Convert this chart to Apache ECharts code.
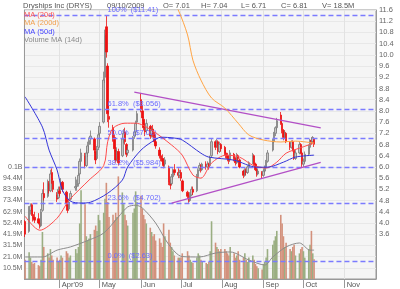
<!DOCTYPE html>
<html><head><meta charset="utf-8">
<script src="https://cdn.jsdelivr.net/npm/echarts@6/dist/echarts.min.js"></script>
<style>html,body{margin:0;padding:0;background:#fff}#c{width:400px;height:289px}</style>
</head><body><div id="c"></div>
<script>
const tradeDates = ['03-06','03-09','03-10','03-11','03-12','03-13','03-16','03-17','03-18','03-19','03-20','03-23','03-24','03-25','03-26','03-27','03-30','03-31',
'04-01','04-02','04-03','04-06','04-07','04-08','04-09','04-13','04-14','04-15','04-16','04-17','04-20','04-21','04-22','04-23','04-24','04-27','04-28','04-29','04-30',
'05-01','05-04','05-05','05-06','05-07','05-08','05-11','05-12','05-13','05-14','05-15','05-18','05-19','05-20','05-21','05-22','05-26','05-27','05-28','05-29',
'06-01','06-02','06-03','06-04','06-05','06-08','06-09','06-10','06-11','06-12','06-15','06-16','06-17','06-18','06-19','06-22','06-23','06-24','06-25','06-26','06-29','06-30',
'07-01','07-02','07-06','07-07','07-08','07-09','07-10','07-13','07-14','07-15','07-16','07-17','07-20','07-21','07-22','07-23','07-24','07-27','07-28','07-29','07-30','07-31',
'08-03','08-04','08-05','08-06','08-07','08-10','08-11','08-12','08-13','08-14','08-17','08-18','08-19','08-20','08-21','08-24','08-25','08-26','08-27','08-28','08-31',
'09-01','09-02','09-03','09-04','09-08','09-09','09-10','09-11','09-14','09-15','09-16','09-17','09-18','09-21','09-22','09-23','09-24','09-25','09-28','09-29','09-30',
'10-01','10-02','10-05','10-06','10-07','10-08','10-09'];
const opens = [4.05,3.70,4.45,4.65,4.30,4.20,4.15,4.00,3.90,4.45,5.05,4.95,5.40,5.15,5.80,5.50,5.00,4.90,
5.15,5.20,5.45,5.10,4.70,4.50,4.85,5.25,5.30,5.40,5.75,6.20,6.40,6.05,6.50,6.80,7.00,7.00,6.55,6.30,6.70,
7.20,7.60,9.20,11.00,9.60,7.80,7.40,7.05,6.60,6.30,6.55,6.40,7.00,7.25,6.80,6.50,6.60,7.10,7.25,7.60,
8.40,8.00,7.70,7.40,7.30,7.45,7.15,7.35,7.15,6.90,6.60,6.40,6.30,6.20,6.10,6.00,5.45,5.40,5.65,5.90,5.80,5.70,
5.80,5.50,5.10,4.95,4.80,5.00,5.20,5.15,5.65,5.95,6.05,5.90,6.10,6.00,6.10,6.05,6.40,6.90,6.75,6.90,6.55,6.80,
6.70,6.50,6.40,6.30,6.25,6.45,6.30,6.15,6.40,6.25,5.85,5.70,5.85,5.80,6.00,6.15,6.40,6.10,5.90,5.75,5.80,
5.70,5.85,6.00,6.20,6.60,6.90,7.20,7.40,7.85,7.55,7.30,7.05,7.20,6.85,6.70,6.90,6.60,6.30,6.50,6.80,6.50,
6.10,6.20,6.45,6.70,6.95,6.90,7.01];
const highs = [4.10,4.60,4.70,4.70,4.45,4.40,4.35,4.10,4.50,5.20,5.45,5.55,5.50,5.90,5.95,5.60,5.10,5.30,
5.30,5.60,5.50,5.15,4.80,4.85,5.15,5.65,5.55,5.80,6.30,6.65,6.50,6.60,6.90,7.05,7.30,7.05,6.65,6.75,7.30,
7.60,9.40,10.90,11.41,9.70,8.20,7.50,7.15,6.70,6.70,6.65,7.10,7.35,7.40,6.85,6.75,7.10,7.40,7.65,8.00,
8.64,8.20,7.80,7.55,7.70,7.50,7.40,7.50,7.25,7.00,6.70,6.55,6.45,6.30,6.35,6.05,5.55,5.75,5.95,6.10,5.95,5.90,
5.90,5.55,5.15,5.05,5.10,5.30,5.30,5.75,5.95,6.15,6.10,6.15,6.20,6.20,6.15,6.40,7.00,6.95,7.00,6.95,6.90,6.85,
6.75,6.60,6.50,6.40,6.60,6.50,6.35,6.50,6.45,6.30,5.90,5.95,5.95,6.05,6.20,6.50,6.45,6.15,5.95,5.95,5.85,
5.95,6.05,6.25,6.60,7.00,7.25,7.45,7.75,7.96,7.60,7.35,7.30,7.25,6.90,6.95,6.95,6.65,6.60,6.90,6.85,6.55,
6.30,6.55,6.80,7.00,7.05,7.10,7.04];
const lows = [3.50,3.65,4.30,4.25,4.05,4.00,3.95,3.80,3.85,4.40,4.80,4.90,5.05,5.10,5.40,5.10,4.75,4.85,
4.95,5.15,5.10,4.60,4.35,4.45,4.80,5.15,5.15,5.30,5.70,6.05,5.95,6.00,6.35,6.55,6.80,6.50,6.10,6.25,6.60,
7.10,7.55,9.00,9.90,7.60,7.40,6.90,6.55,6.15,6.20,6.05,6.35,6.85,6.80,6.35,6.40,6.55,7.00,7.10,7.50,
7.95,7.65,7.30,7.10,7.20,7.00,7.05,7.05,6.80,6.65,6.30,6.20,6.10,5.95,6.00,5.35,5.20,5.35,5.55,5.70,5.60,5.60,
5.50,5.10,4.85,4.72,4.75,4.95,5.00,5.10,5.60,5.85,5.80,5.85,5.90,5.95,5.90,6.00,6.35,6.60,6.70,6.45,6.50,6.55,
6.40,6.30,6.20,6.10,6.20,6.20,6.05,6.10,6.20,5.95,5.60,5.65,5.70,5.75,5.95,6.10,6.05,5.85,5.65,5.70,5.60,
5.65,5.80,5.95,6.15,6.55,6.85,7.10,7.30,7.50,7.20,6.95,7.00,6.85,6.60,6.65,6.55,6.25,6.25,6.45,6.45,6.00,
6.00,6.15,6.40,6.65,6.80,6.85,6.71];
const closes = [3.60,4.45,4.60,4.30,4.15,4.10,4.00,3.90,4.40,5.05,4.90,5.45,5.15,5.75,5.55,5.20,4.85,5.20,
5.05,5.45,5.20,4.70,4.45,4.75,5.05,5.30,5.40,5.70,6.20,6.50,6.05,6.50,6.75,6.95,7.10,6.60,6.25,6.65,7.15,
7.45,9.10,10.70,10.10,7.90,7.70,7.00,6.65,6.25,6.55,6.15,7.00,7.20,6.90,6.45,6.60,7.05,7.25,7.55,7.90,
8.05,7.75,7.40,7.25,7.55,7.10,7.30,7.15,6.90,6.75,6.40,6.30,6.20,6.05,6.25,5.45,5.35,5.65,5.85,5.80,5.70,5.80,
5.60,5.15,4.95,4.80,5.00,5.20,5.10,5.65,5.90,6.05,5.90,6.10,6.00,6.10,6.00,6.35,6.90,6.70,6.90,6.55,6.80,6.65,
6.50,6.40,6.30,6.20,6.50,6.30,6.15,6.40,6.30,6.00,5.70,5.90,5.80,6.00,6.15,6.40,6.10,5.90,5.75,5.85,5.70,
5.85,6.00,6.20,6.50,6.90,7.20,7.40,7.65,7.55,7.30,7.05,7.20,6.90,6.70,6.90,6.60,6.30,6.50,6.80,6.50,6.10,
6.20,6.45,6.70,6.95,6.90,7.05,6.81];
const volumes = [18,25,20,16,14,15,13,12,18,44,30,24,20,28,22,18,20,16,
18,22,20,26,24,20,22,28,24,30,52,83,70,40,36,38,42,46,50,45,60,
55,62,75,90,72,58,60,55,62,58,96,81,70,60,55,50,62,66,82,72,
78,66,60,56,52,48,44,40,42,36,38,34,30,52,40,46,34,30,26,22,20,20,
20,24,26,22,18,16,15,20,24,22,18,16,15,14,16,26,54,34,30,28,26,28,
28,26,24,22,30,24,20,22,26,18,20,24,18,16,20,22,18,14,12,10,9,
14,16,20,28,32,36,40,45,60,52,40,30,34,28,26,30,32,22,24,28,30,
26,20,28,32,45,24,18.5];

const ma20Pts = [['2009-03-06',4.24],['2009-03-17',3.74],['2009-03-30',4.17],['2009-04-08',4.81],['2009-04-23',5.53],['2009-05-04',6.05],['2009-05-07',6.9],['2009-05-11',7.38],['2009-05-20',7.56],['2009-05-28',7.56],['2009-06-09',7.31],['2009-06-24',6.78],['2009-07-02',6.42],['2009-07-10',5.71],['2009-07-16',5.6],['2009-07-24',6.14],['2009-08-04',6.42],['2009-08-14',6.35],['2009-08-24',6.06],['2009-09-03',5.96],['2009-09-11',6.17],['2009-09-18',6.49],['2009-09-28',6.67],['2009-10-09',6.85]];
const ma50Pts = [['2009-03-06',8.5],['2009-03-19',7.42],['2009-03-24',6.6],['2009-03-30',5.89],['2009-04-03',5.17],['2009-04-09',4.78],['2009-04-17',4.71],['2009-04-24',4.74],['2009-05-07',5.06],['2009-05-18',5.53],['2009-05-22',6.0],['2009-06-01',6.6],['2009-06-09',6.89],['2009-06-16',7.06],['2009-06-26',7.03],['2009-07-02',6.96],['2009-07-16',6.49],['2009-07-22',6.35],['2009-08-10',6.24],['2009-08-27',5.99],['2009-09-04',5.99],['2009-09-16',6.17],['2009-09-25',6.35],['2009-10-09',6.42]];
const ma200Pts = [['2009-06-22',12.2],['2009-06-29',11.6],['2009-07-06',10.71],['2009-07-10',9.81],['2009-07-16',9.1],['2009-07-24',8.46],['2009-08-03',8.1],['2009-08-13',7.56],['2009-08-21',7.14],['2009-09-01',6.96],['2009-09-14',6.89],['2009-09-25',6.92],['2009-10-09',6.85]];
const volMaPts = [['2009-03-06',20.6],['2009-03-19',20.6],['2009-03-30',27],['2009-04-09',30],['2009-04-23',36.5],['2009-05-04',43],['2009-05-15',58],['2009-05-22',67.4],['2009-05-28',69],['2009-06-02',66.5],['2009-06-12',52.4],['2009-06-22',32],['2009-07-02',21],['2009-07-15',20.6],['2009-07-27',24.3],['2009-08-07',25.3],['2009-08-21',17.8],['2009-09-02',13.1],['2009-09-08',20.6],['2009-09-18',30],['2009-09-28',33.7],['2009-10-06',27],['2009-10-09',27]];

const fibPct = ['100%','61.8%','50.0%','38.2%','23.6%','0.0%'];
const fibVal = [11.41, 8.056, 7.02, 5.984, 4.702, 2.63];
const trendUpper = [['2009-05-27',8.67],['2009-10-14',7.39]];
const trendLower = [['2009-06-24',4.71],['2009-10-14',6.16]];
const monthStarts = ['2009-04-01','2009-05-01','2009-06-01','2009-07-01','2009-08-01','2009-09-01','2009-10-01','2009-11-01'];
const monthLabels = ["Apr'09",'May','Jun','Jul','Aug','Sep','Oct','Nov'];
const legendNames = ['MA (20d)','MA (200d)','MA (50d)','Volume MA (14d)'];
const header = ['Dryships Inc (DRYS)','09/10/2009','O= 7.01','H= 7.04','L= 6.71','C= 6.81','V= 18.5M'];
const volStep = 10.486;

const cats = [];
for (let t = Date.UTC(2009,2,6); t <= Date.UTC(2009,10,24); t += 86400000) cats.push(new Date(t).toISOString().slice(0,10));
const idx = {}; cats.forEach((c,i)=>idx[c]=i);
const candle = cats.map(()=>['-','-','-','-']);
const vol = cats.map(()=>'-');
tradeDates.forEach((d,i)=>{
  const k = idx['2009-'+d];
  candle[k] = [opens[i], closes[i], lows[i], highs[i]];
  vol[k] = {value: volumes[i], itemStyle:{color: closes[i] >= opens[i] ? '#9aae82' : '#d3917c'}};
});
function sparse(pts){ const a = cats.map(()=>'-'); pts.forEach(p=>{a[idx[p[0]]]=p[1];}); return a; }
const isMonth = (i,v)=> monthStarts.indexOf(v) >= 0;

const fibLines = fibVal.map((v,i)=>({yAxis: v, label:{formatter: fibPct[i] + '  ($' + v + ')'}}));
const trendStyle = {type:'solid', color:'#b24fc6', width:1.3};
const trendLines = [trendUpper, trendLower].map(t=>[{coord:t[0], lineStyle:trendStyle, label:{show:false}},{coord:t[1]}]);

const font = 'Liberation Sans, Arial, sans-serif';
const legColors = ['#ff5555','#f2a04e','#4646ff','#8a8a8a'];
const headerX = [23,107,163,201,241,281,322];
const graphics = header.map((t,i)=>({type:'text', left:headerX[i], top:2, style:{text:t, fontSize:7.5, fontFamily:font, fill:'#555'}}))
  .concat(legendNames.map((t,i)=>({type:'text', left:24, top:11+i*8.3, z:50, style:{text:t, fontSize:7.5, fontFamily:font, fill:legColors[i]}})));

const chart = echarts.init(document.getElementById('c'));
chart.setOption({
  animation:false,
  backgroundColor:'#fff',
  textStyle:{fontFamily:font},
  grid:{left:22, right:24, top:10, bottom:10, show:true, backgroundColor:'#f5f5f5', borderColor:'#999', borderWidth:1},
  graphic: graphics,
  xAxis:{type:'category', data:cats, boundaryGap:true,
    axisLine:{lineStyle:{color:'#999'}},
    axisTick:{show:true, interval:isMonth, alignWithLabel:true, length:9, lineStyle:{color:'#999'}},
    axisLabel:{interval:isMonth, formatter:v=>monthLabels[monthStarts.indexOf(v)], align:'left', margin:2, padding:[0,0,0,2], fontSize:7.5, color:'#555'},
    splitLine:{show:true, interval:isMonth, lineStyle:{color:'#e2e2e2'}}},
  yAxis:[
    {type:'value', position:'right', min:2.0, max:11.6, interval:0.4,
     axisLine:{show:true, lineStyle:{color:'#999'}}, axisTick:{show:false},
     axisLabel:{formatter:v=> v>3.55 ? v.toFixed(1) : '', fontSize:7.5, color:'#666', margin:3},
     splitLine:{lineStyle:{color:'#e8e8e8'}}},
    {type:'value', position:'left', min:0, max:volStep*24, interval:volStep,
     axisLine:{show:true, lineStyle:{color:'#999'}}, axisTick:{show:false},
     axisLabel:{formatter:v=>{const k=Math.round(v/volStep); if(k>=1&&k<=9) return v.toFixed(1)+'M'; if(k===10) return '0.1B'; return '';}, fontSize:7, color:'#666', margin:2},
     splitLine:{show:false}}
  ],
  series:[
    {name:'Volume', type:'bar', yAxisIndex:1, data:vol, barWidth:1.6, z:1},
    {name:'Volume MA (14d)', type:'line', yAxisIndex:1, data:sparse(volMaPts), connectNulls:true, smooth:0.3, showSymbol:false, lineStyle:{color:'#8c8c8c', width:1}, z:3},
    {name:'DRYS', type:'candlestick', data:candle, barWidth:2, z:4,
     itemStyle:{color:'#c4c4c4', borderColor:'#7a7a7a', color0:'#ee1111', borderColor0:'#ee1111', borderWidth:0.8},
     markLine:{silent:true, symbol:['none','none'], animation:false,
       lineStyle:{type:[5,3], color:'#7b7bff', width:1.3},
       label:{position:'insideStartTop', padding:[0,0,0,82], distance:1, fontSize:7.5, color:'#6a6aff', fontFamily:font},
       data: fibLines.concat(trendLines)}},
    {name:'MA (20d)', type:'line', data:sparse(ma20Pts), connectNulls:true, smooth:0.3, showSymbol:false, lineStyle:{color:'#ff4d4d', width:1}, z:5},
    {name:'MA (50d)', type:'line', data:sparse(ma50Pts), connectNulls:true, smooth:0.3, showSymbol:false, lineStyle:{color:'#3434d8', width:1}, z:5},
    {name:'MA (200d)', type:'line', data:sparse(ma200Pts), connectNulls:true, smooth:0.3, showSymbol:false, lineStyle:{color:'#ffa444', width:1}, z:5}
  ]
});
</script></body></html>
